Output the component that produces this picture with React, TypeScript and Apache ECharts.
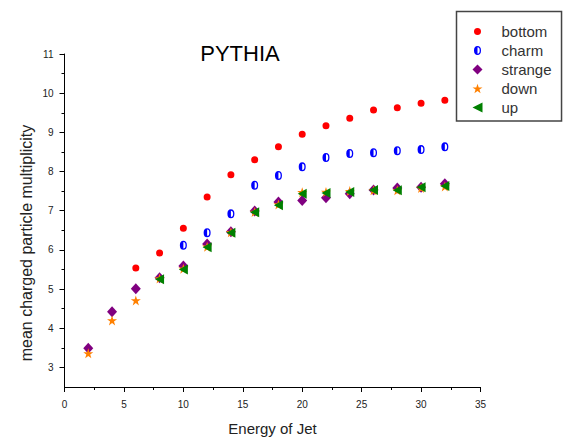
import React, { useEffect, useRef } from 'react';
import * as echarts from 'echarts';

const seriesNames = ['bottom', 'charm', 'strange', 'down', 'up'];

const bottomX = [6, 8, 10, 12, 14, 16, 18, 20, 22, 24, 26, 28, 30, 32];
const bottomY = [5.54, 5.92, 6.55, 7.35, 7.92, 8.3, 8.63, 8.95, 9.17, 9.36, 9.57, 9.63, 9.74, 9.82];

const charmX = [10, 12, 14, 16, 18, 20, 22, 24, 26, 28, 30, 32];
const charmY = [6.12, 6.44, 6.92, 7.65, 7.9, 8.12, 8.36, 8.46, 8.48, 8.53, 8.56, 8.63];

const strangeX = [2, 4, 6, 8, 10, 12, 14, 16, 18, 20, 22, 24, 26, 28, 30, 32];
const strangeY = [3.49, 4.42, 5.01, 5.29, 5.59, 6.15, 6.46, 6.99, 7.22, 7.26, 7.33, 7.43, 7.53, 7.58, 7.6, 7.69];

const downX = [2, 4, 6, 8, 10, 12, 14, 16, 18, 20, 22, 24, 26, 28, 30, 32];
const downY = [3.36, 4.2, 4.71, 5.27, 5.52, 6.08, 6.45, 6.97, 7.16, 7.47, 7.48, 7.5, 7.52, 7.52, 7.58, 7.62];

const upX = [8, 10, 12, 14, 16, 18, 20, 22, 24, 26, 28, 30, 32];
const upY = [5.25, 5.5, 6.07, 6.44, 6.96, 7.14, 7.43, 7.45, 7.48, 7.53, 7.52, 7.6, 7.63];

const yMajorTicks = [3, 4, 5, 6, 7, 8, 9, 10, 11];
const yMinorTicks = [3.5, 4.5, 5.5, 6.5, 7.5, 8.5, 9.5, 10.5];

const FONT = '"Liberation Sans", Arial, sans-serif';

const PAD = 'M0,0 L0.01,0 M100,100 L100.01,100 ';
const SYM_RED = 'path://' + PAD + 'M50,15 A35,35 0 1,1 50,85 A35,35 0 1,1 50,15 Z';
const SYM_BLUE =
  'path://' + PAD + 'M50,5 A35,45 0 1,1 50,95 A35,45 0 1,1 50,5 Z M50,18 L50,82 A22,32 0 0,0 50,18 Z';
const SYM_STAR =
  'path://M50,0 L61.8,35.5 L99,35.5 L69,57.5 L80.5,93 L50,71 L19.5,93 L31,57.5 L1,35.5 L38.2,35.5 Z';
const SYM_LEFT = 'path://M0,50 L100,0 L100,100 Z';

const zip = (xs: number[], ys: number[]) => xs.map((x, i) => [x, ys[i]]);

export default function App() {
  const ref = useRef<HTMLDivElement>(null);
  useEffect(() => {
    if (!ref.current) return;
    const chart = echarts.init(ref.current, undefined, { renderer: 'svg' });
    const specs = [
      { name: 'bottom', data: zip(bottomX, bottomY), symbol: SYM_RED, size: 10, color: '#ff0000' },
      { name: 'charm', data: zip(charmX, charmY), symbol: SYM_BLUE, size: 10, color: '#0000ff' },
      { name: 'strange', data: zip(strangeX, strangeY), symbol: 'diamond', size: [10, 11], color: '#800080' },
      { name: 'down', data: zip(downX, downY), symbol: SYM_STAR, size: 10, color: '#ff8000' },
      { name: 'up', data: zip(upX, upY), symbol: SYM_LEFT, size: [9, 10], color: '#008000' },
    ];
    chart.setOption({
      animation: false,
      backgroundColor: '#ffffff',
      grid: { left: 64.5, right: 85.5, top: 54, bottom: 49.5, containLabel: false },
      xAxis: {
        type: 'value',
        min: 0,
        max: 35,
        interval: 5,
        name: 'Energy of Jet',
        nameLocation: 'middle',
        nameGap: 34,
        nameTextStyle: { fontSize: 15, fontFamily: FONT, color: '#222' },
        axisLine: { show: true, onZero: false, lineStyle: { color: '#000', width: 1 } },
        axisTick: { show: true, inside: false, length: 5, lineStyle: { color: '#000' } },
        minorTick: { show: true, splitNumber: 2, length: 3, lineStyle: { color: '#000' } },
        axisLabel: { margin: 12, fontSize: 10, fontFamily: FONT, color: '#222' },
        splitLine: { show: false },
      },
      yAxis: [
        {
          type: 'value',
          min: 2.5,
          max: 11,
          axisLine: { show: true, onZero: false, lineStyle: { color: '#000', width: 1 } },
          axisTick: { show: true, length: 5, customValues: yMajorTicks, lineStyle: { color: '#000' } },
          axisLabel: { margin: 11, fontSize: 10, fontFamily: FONT, color: '#222', customValues: yMajorTicks },
          splitLine: { show: false },
        },
        {
          type: 'value',
          min: 2.5,
          max: 11,
          position: 'left',
          offset: 0,
          axisLine: { show: false },
          axisTick: { show: true, length: 3, customValues: yMinorTicks, lineStyle: { color: '#000' } },
          axisLabel: { show: false },
          splitLine: { show: false },
        },
      ],
      legend: {
        orient: 'vertical',
        left: 456.5,
        top: 11.5,
        padding: [12.5, 10, 6, 16],
        itemWidth: 10,
        itemHeight: 10,
        itemGap: 4,
        borderColor: '#444',
        borderWidth: 1.5,
        selectedMode: false,
        data: seriesNames,
        formatter: (name: string) => `{t|${name}}`,
        textStyle: {
          rich: {
            t: { fontSize: 15, fontFamily: FONT, color: '#333', padding: [0, 0, 0, 14] },
          },
        },
      },
      graphic: [
        {
          type: 'text',
          x: 240,
          y: 53,
          style: {
            text: 'PYTHIA',
            fontSize: 22,
            fontFamily: FONT,
            fill: '#000',
            align: 'center',
            verticalAlign: 'middle',
          },
        },
        {
          type: 'text',
          x: 26,
          y: 243,
          rotation: Math.PI / 2,
          style: {
            text: 'mean charged particle multiplicity',
            fontSize: 16,
            fontFamily: FONT,
            fill: '#222',
            align: 'center',
            verticalAlign: 'middle',
          },
        },
      ],
      series: specs.map((s) => ({
        type: 'scatter',
        name: s.name,
        data: s.data,
        symbol: s.symbol,
        symbolSize: s.size,
        itemStyle: { color: s.color, opacity: 1 },
        emphasis: { disabled: true },
        yAxisIndex: 0,
      })),
    });
    return () => chart.dispose();
  }, []);
  return (
    <div
      ref={ref}
      style={{ position: 'fixed', left: 0, top: 0, width: 566, height: 441, background: '#fff' }}
    />
  );
}
